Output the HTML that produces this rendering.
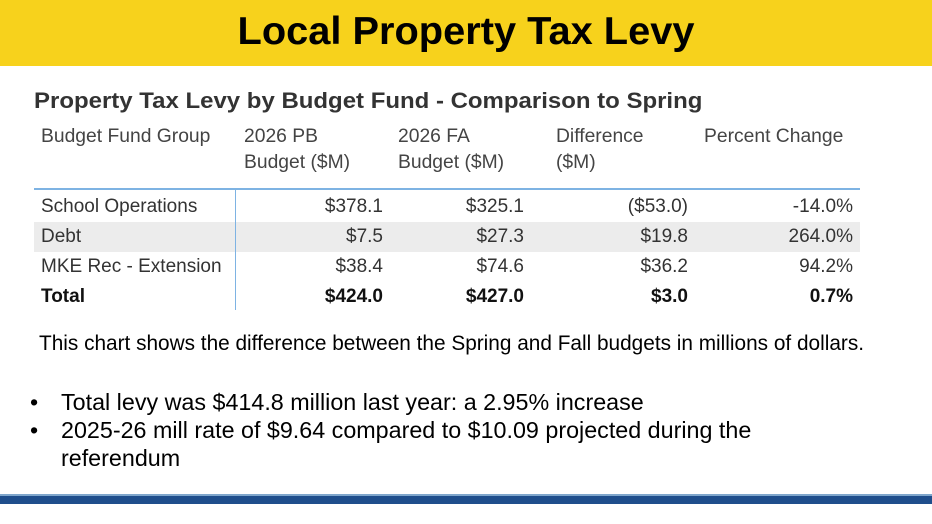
<!DOCTYPE html>
<html><head><meta charset="utf-8"><style>
body{margin:0;width:932px;height:524px;position:relative;background:#fff;overflow:hidden;font-family:"Liberation Sans",sans-serif}
.a{position:absolute;white-space:nowrap}
.hdr{left:0;top:0;width:932px;height:66px;background:#f7d21c}
.t{top:10px;left:0;width:932px;text-align:center;font-size:39px;font-weight:bold;color:#000;transform:scaleX(1.02)}
.sub{left:34px;top:88px;font-size:22px;font-weight:bold;color:#333;transform-origin:left;transform:scaleX(1.09)}
.h{font-size:19.3px;color:#444;line-height:26px;top:124px}
.c{font-size:19px;color:#333;height:30px;line-height:30px}
.r{text-align:right}
.b{font-weight:bold;color:#111}
.p{font-size:20.8px;color:#000}
.bl{font-size:23.3px;color:#000;line-height:28px}
</style></head><body>
<div class="a hdr"></div>
<div class="a t">Local Property Tax Levy</div>
<div class="a sub">Property Tax Levy by Budget Fund - Comparison to Spring</div>
<div class="a h" style="left:41px">Budget Fund Group</div>
<div class="a h" style="left:244px">2026 PB<br>Budget ($M)</div>
<div class="a h" style="left:398px">2026 FA<br>Budget ($M)</div>
<div class="a h" style="left:556px">Difference<br>($M)</div>
<div class="a h" style="left:704px">Percent Change</div>
<div class="a" style="left:34px;top:188px;width:826px;height:2px;background:#7eb3e3"></div>
<div class="a" style="left:34px;top:222px;width:826px;height:30px;background:#ececec"></div>
<div class="a" style="left:235px;top:190px;width:1px;height:120px;background:#7eb3e3"></div>
<div class="a c" style="left:41px;top:192px">School Operations</div>
<div class="a c r" style="right:549px;top:192px">$378.1</div>
<div class="a c r" style="right:408px;top:192px">$325.1</div>
<div class="a c r" style="right:244px;top:192px">($53.0)</div>
<div class="a c r" style="right:79px;top:192px">-14.0%</div>
<div class="a c" style="left:41px;top:222px">Debt</div>
<div class="a c r" style="right:549px;top:222px">$7.5</div>
<div class="a c r" style="right:408px;top:222px">$27.3</div>
<div class="a c r" style="right:244px;top:222px">$19.8</div>
<div class="a c r" style="right:79px;top:222px">264.0%</div>
<div class="a c" style="left:41px;top:252px">MKE Rec - Extension</div>
<div class="a c r" style="right:549px;top:252px">$38.4</div>
<div class="a c r" style="right:408px;top:252px">$74.6</div>
<div class="a c r" style="right:244px;top:252px">$36.2</div>
<div class="a c r" style="right:79px;top:252px">94.2%</div>
<div class="a c b" style="left:41px;top:282px">Total</div>
<div class="a c r b" style="right:549px;top:282px">$424.0</div>
<div class="a c r b" style="right:408px;top:282px">$427.0</div>
<div class="a c r b" style="right:244px;top:282px">$3.0</div>
<div class="a c r b" style="right:79px;top:282px">0.7%</div>
<div class="a p" style="left:39px;top:332px">This chart shows the difference between the Spring and Fall budgets in millions of dollars.</div>
<div class="a bl" style="left:30px;top:388px">•</div>
<div class="a bl" style="left:61px;top:388px">Total levy was $414.8 million last year: a 2.95% increase</div>
<div class="a bl" style="left:30px;top:416px">•</div>
<div class="a bl" style="left:61px;top:416px">2025-26 mill rate of $9.64 compared to $10.09 projected during the<br>referendum</div>
<div class="a" style="left:0;top:494px;width:932px;height:2px;background:#7fa6cc"></div>
<div class="a" style="left:0;top:496px;width:932px;height:8px;background:#1f4e8c"></div>
</body></html>
